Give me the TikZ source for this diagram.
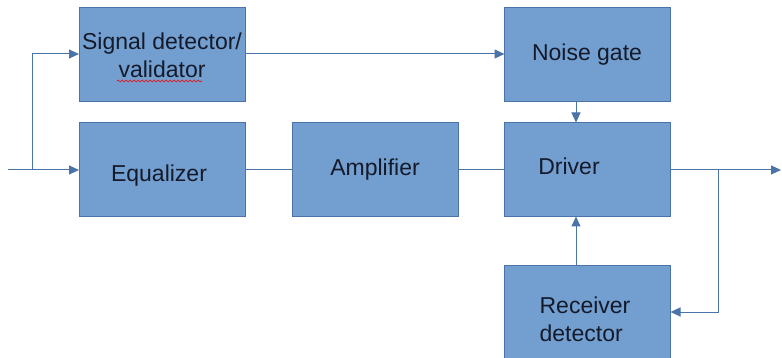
\documentclass[tikz,border=0pt]{standalone}
\usepackage{fontspec}
\setmainfont{Liberation Sans}
\usetikzlibrary{arrows.meta,decorations.pathmorphing}
\definecolor{boxfill}{HTML}{729FCF}
\definecolor{boxline}{HTML}{4A74A8}
\definecolor{txt}{HTML}{141A2A}
\tikzset{
  blk/.style={draw=boxline,fill=boxfill,line width=0.8pt,minimum width=166pt,minimum height=94pt,inner sep=0pt,outer sep=0pt},
  lbl/.style={font=\fontsize{23}{28}\selectfont,text=txt,inner sep=0pt},
  wire/.style={draw=boxline,line width=1pt},
  arr/.style={wire,-{Triangle[length=10pt,width=9pt]}}
}
\begin{document}
\begin{tikzpicture}[x=1pt,y=-1pt]
\useasboundingbox (0,0) rectangle (782,358);
\clip (0,0) rectangle (782,358);
\fill[white] (0,0) rectangle (782,358);
\node[blk] (sd) at (162,54) {};
\node[blk] (eq) at (162,169.5) {};
\node[blk] (amp) at (375,169) {};
\node[blk] (ng) at (587.5,54) {};
\node[blk] (dr) at (587.5,169.5) {};
\node[blk] (rx) at (587.5,312) {};
\node[lbl,align=center] (sdt) at (162,55) {Signal detector/\\validator};
\node[lbl] (eqt) at (159,176) {Equalizer};
\node[lbl] (ampt) at (375,170) {Amplifier};
\node[lbl] (ngt) at (587,55) {Noise gate};
\node[lbl] (drt) at (569,166) {Driver};
\node[lbl,align=left] (rxt) at (585,319) {Receiver\\detector};
\draw[red,line width=0.6pt,decorate,decoration={snake,amplitude=1pt,segment length=4pt}] (117,81) -- (202,81);
\coordinate (in) at (8,170);
\coordinate (br) at (32,170);
\coordinate (out) at (781,170);
\coordinate (ob) at (718,170);
\coordinate (vx) at (576,0);
\draw[arr] (in) -- (eq.west |- in);
\draw[arr] (br) |- (sd.west);
\draw[arr] (sd.east) -- (ng.west);
\draw[arr] (vx |- ng.south) -- (vx |- dr.north);
\draw[wire] (eq.east |- in) -- (amp.west |- in);
\draw[wire] (amp.east |- in) -- (dr.west |- in);
\draw[arr] (dr.east |- in) -- (out);
\draw[arr] (ob) |- (rx.east);
\draw[arr] (vx |- rx.north) -- (vx |- dr.south);
\end{tikzpicture}
\end{document}
